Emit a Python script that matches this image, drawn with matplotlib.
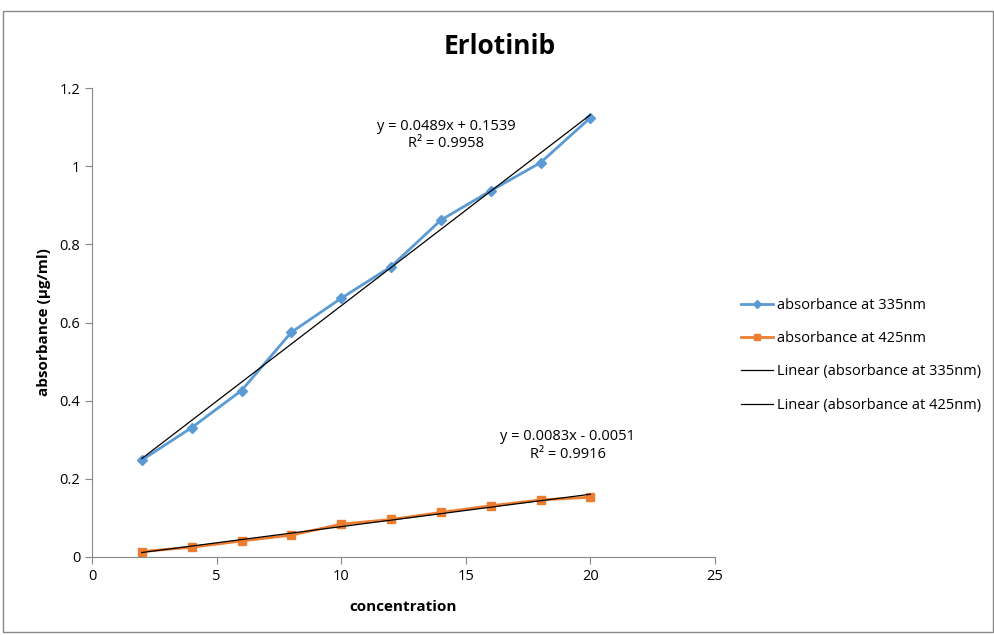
import matplotlib
matplotlib.use("Agg")
from matplotlib import pyplot as plt
from matplotlib.patches import Rectangle
import numpy as np

plt.rcParams['font.family'] = ['Liberation Sans Narrow', 'Open Sans', 'DejaVu Sans']

conc = [2, 4, 6, 8, 10, 12, 14, 16, 18, 20]
abs_335 = [0.248, 0.331, 0.426, 0.575, 0.662, 0.743, 0.862, 0.937, 1.009, 1.124]
abs_425 = [0.014, 0.025, 0.041, 0.056, 0.084, 0.096, 0.114, 0.131, 0.146, 0.153]

eq_335 = "y = 0.0489x + 0.1539\nR\u00b2 = 0.9958"
eq_425 = "y = 0.0083x - 0.0051\nR\u00b2 = 0.9916"

x = np.array(conc, dtype=float)
fit_335 = np.polyfit(x, abs_335, 1)
fit_425 = np.polyfit(x, abs_425, 1)

fig = plt.figure(figsize=(9.95, 6.35), dpi=100)
ax = fig.add_axes([92 / 995, 1 - 557 / 635, (715 - 92) / 995, (557 - 88) / 635])

# chart frame
fig.patches.append(Rectangle((3 / 995, 3 / 635), 990 / 995, 621 / 635, transform=fig.transFigure,
                             fill=False, edgecolor="#888888", linewidth=1))

ax.plot(x, abs_335, color="#5B9BD5", marker="D", markersize=5, linewidth=2,
        label="absorbance at 335nm")
ax.plot(x, abs_425, color="#ED7D31", marker="s", markersize=6, linewidth=2,
        label="absorbance at 425nm")
ax.plot(x, np.polyval(fit_335, x), color="black", linewidth=0.9,
        label="Linear (absorbance at 335nm)")
ax.plot(x, np.polyval(fit_425, x), color="black", linewidth=0.9,
        label="Linear (absorbance at 425nm)")

ax.text(14.2, 1.08, eq_335, ha="center", va="center", fontsize=10.5, linespacing=1.25)
ax.text(19.1, 0.285, eq_425, ha="center", va="center", fontsize=10.5, linespacing=1.25)

ax.set_xlim(0, 25)
ax.set_ylim(0, 1.2)
ax.set_xticks([0, 5, 10, 15, 20, 25])
ax.set_yticks([0, 0.2, 0.4, 0.6, 0.8, 1.0, 1.2])
ax.set_yticklabels(["0", "0.2", "0.4", "0.6", "0.8", "1", "1.2"])
ax.tick_params(labelsize=10.5, color="#888888", length=5)
for s in ["top", "right"]:
    ax.spines[s].set_visible(False)
for s in ["left", "bottom"]:
    ax.spines[s].set_color("#888888")

fig.text(500 / 995, 1 - 47 / 635, "Erlotinib", fontsize=19, fontweight="bold",
         ha="center", va="center")
ax.set_xlabel("concentration", fontsize=11, fontweight="bold", labelpad=12)
ax.set_ylabel("absorbance (\u03bcg/ml)", fontsize=11, fontweight="bold", labelpad=6)

ax.legend(loc="center left", bbox_to_anchor=(1.02, 0.43), frameon=False, fontsize=10.5,
          handlelength=2.2, labelspacing=1.25, handletextpad=0.3, markerscale=0.8)

fig.savefig("out.png", dpi=100)
